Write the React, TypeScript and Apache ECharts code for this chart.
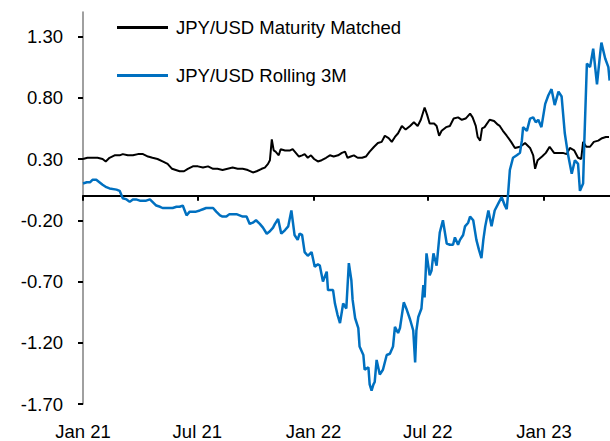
import React, { useEffect, useRef } from 'react';
import * as echarts from 'echarts';

// ---- axis / tick data (x is days since 1 Jan 2021) ----
const xMinDay = 0;
const xMaxDay = 834.6; // ~15 Apr 2023
const xTickDays = [0, 181, 365, 546, 730]; // 1 Jan 21, 1 Jul 21, 1 Jan 22, 1 Jul 22, 1 Jan 23
const xTickLabels = ['Jan 21', 'Jul 21', 'Jan 22', 'Jul 22', 'Jan 23'];
const yTickValues = [-1.7, -1.2, -0.7, -0.2, 0.3, 0.8, 1.3];
const yMin = -1.7;
const yMax = 1.5;

const seriesNames = ['JPY/USD Maturity Matched', 'JPY/USD Rolling 3M'];

// ---- JPY/USD Maturity Matched (days since 1 Jan 2021) ----
const maturityDays = [
  0, 7, 15, 23, 31, 36, 42, 50, 58, 63,
  71, 79, 87, 95, 103, 110, 118, 126, 134, 141,
  147, 153, 160, 166, 174, 182, 190, 198, 206, 213,
  221, 229, 237, 245, 253, 261, 269, 275, 283, 288,
  293, 296, 299, 302, 305, 310, 313, 320, 328, 332,
  337, 342, 347, 351, 356, 361, 366, 372, 378, 385,
  391, 397, 404, 410, 415, 419, 424, 429, 435, 442,
  448, 454, 461, 467, 473, 478, 484, 489, 494, 499,
  505, 511, 518, 524, 530, 535, 541, 545, 549, 556,
  560, 564, 568, 575, 581, 587, 594, 600, 606, 613,
  617, 622, 625, 629, 632, 636, 644, 651, 657, 660,
  665, 671, 678, 684, 692, 700, 708, 713, 716, 720,
  727, 733, 739, 746, 752, 760, 766, 771, 778, 784,
  789, 792, 797, 803, 809, 816, 822, 828, 833,
];
const maturityValues = [
  0.30, 0.31, 0.31, 0.31, 0.30, 0.28, 0.31, 0.33, 0.33, 0.34,
  0.33, 0.33, 0.34, 0.34, 0.32, 0.31, 0.30, 0.28, 0.26, 0.22,
  0.21, 0.20, 0.20, 0.22, 0.24, 0.24, 0.23, 0.24, 0.22, 0.22,
  0.21, 0.22, 0.23, 0.22, 0.22, 0.21, 0.19, 0.20, 0.22, 0.23,
  0.26, 0.29, 0.46, 0.37, 0.36, 0.33, 0.38, 0.37, 0.37, 0.38,
  0.35, 0.32, 0.33, 0.34, 0.31, 0.33, 0.30, 0.28, 0.29, 0.31,
  0.33, 0.32, 0.33, 0.35, 0.36, 0.31, 0.32, 0.33, 0.31, 0.31,
  0.32, 0.36, 0.40, 0.43, 0.44, 0.49, 0.47, 0.44, 0.48, 0.51,
  0.57, 0.54, 0.57, 0.60, 0.57, 0.62, 0.72, 0.66, 0.59, 0.59,
  0.57, 0.49, 0.53, 0.56, 0.57, 0.63, 0.64, 0.62, 0.63, 0.67,
  0.64, 0.57, 0.48, 0.45, 0.55, 0.56, 0.62, 0.61, 0.58, 0.57,
  0.53, 0.49, 0.44, 0.39, 0.40, 0.43, 0.39, 0.33, 0.22, 0.29,
  0.32, 0.35, 0.40, 0.35, 0.35, 0.35, 0.34, 0.39, 0.37, 0.31,
  0.30, 0.44, 0.40, 0.40, 0.44, 0.45, 0.47, 0.48, 0.48,
];

// ---- JPY/USD Rolling 3M (days since 1 Jan 2021) ----
const rollingDays = [
  0, 6, 11, 15, 21, 26, 31, 37, 42, 53,
  58, 63, 69, 74, 79, 84, 90, 95, 100, 106,
  110, 116, 122, 126, 132, 137, 142, 148, 153, 158,
  164, 169, 174, 179, 185, 190, 195, 201, 206, 211,
  217, 221, 227, 232, 237, 243, 248, 253, 259, 264,
  269, 274, 280, 285, 291, 296, 301, 304, 309, 314,
  320, 325, 330, 335, 340, 343, 347, 351, 356, 362,
  367, 372, 375, 380, 386, 388, 392, 396, 399, 403,
  407, 412, 417, 421, 425, 427, 431, 436, 438, 444,
  446, 452, 454, 457, 460, 462, 465, 470, 475, 481,
  486, 491, 494, 499, 502, 508, 512, 518, 523, 526,
  528, 531, 536, 539, 541, 544, 549, 552, 555, 560,
  565, 570, 576, 581, 586, 589, 594, 597, 602, 605,
  610, 613, 618, 623, 627, 631, 634, 637, 642, 647,
  652, 658, 663, 668, 671, 673, 676, 681, 687, 692,
  695, 697, 703, 708, 713, 717, 721, 726, 732, 737,
  742, 747, 753, 758, 763, 768, 774, 779, 784, 787,
  792, 794, 798, 803, 808, 814, 819, 821, 827, 832,
  834,
];
const rollingValues = [
  0.10, 0.11, 0.11, 0.13, 0.13, 0.11, 0.09, 0.07, 0.06, 0.05,
  0.04, -0.02, -0.03, -0.05, -0.03, -0.03, -0.04, -0.04, -0.04, -0.03,
  -0.05, -0.08, -0.09, -0.10, -0.10, -0.10, -0.10, -0.09, -0.09, -0.08,
  -0.16, -0.13, -0.13, -0.13, -0.12, -0.11, -0.10, -0.10, -0.10, -0.13,
  -0.16, -0.17, -0.17, -0.15, -0.15, -0.15, -0.16, -0.17, -0.17, -0.23,
  -0.22, -0.20, -0.23, -0.26, -0.31, -0.29, -0.26, -0.23, -0.19, -0.31,
  -0.28, -0.25, -0.12, -0.32, -0.36, -0.31, -0.32, -0.46, -0.49, -0.46,
  -0.58, -0.56, -0.57, -0.70, -0.62, -0.77, -0.77, -0.77, -0.88, -0.97,
  -1.04, -0.88, -0.92, -0.55, -0.69, -0.85, -1.00, -1.08, -1.23, -1.30,
  -1.42, -1.40, -1.54, -1.59, -1.54, -1.52, -1.34, -1.46, -1.42, -1.30,
  -1.29, -1.23, -1.07, -1.12, -1.08, -0.87, -0.92, -1.01, -1.10, -1.36,
  -1.10, -0.99, -0.92, -0.73, -0.83, -0.47, -0.65, -0.61, -0.47, -0.57,
  -0.30, -0.20, -0.39, -0.40, -0.40, -0.34, -0.40, -0.36, -0.32, -0.25,
  -0.22, -0.17, -0.20, -0.36, -0.44, -0.51, -0.36, -0.25, -0.12, -0.25,
  -0.12, -0.06, -0.01, -0.08, -0.11, 0.00, 0.21, 0.31, 0.33, 0.35,
  0.45, 0.56, 0.53, 0.63, 0.64, 0.60, 0.62, 0.56, 0.75, 0.82,
  0.87, 0.74, 0.85, 0.81, 0.51, 0.34, 0.18, 0.29, 0.26, 0.04,
  0.10, 0.45, 1.08, 1.05, 1.20, 0.91, 1.16, 1.25, 1.12, 1.05,
  0.94,
];

const FONT = "'Liberation Sans', Arial, sans-serif";
const FONT_SIZE = 18.5;

export default function App() {
  const ref = useRef<HTMLDivElement>(null);

  useEffect(() => {
    document.body.style.margin = '0';
    if (!ref.current) return;
    const chart = echarts.init(ref.current, undefined, { renderer: 'svg' });

    const xFormatter = (v: number) => {
      const i = xTickDays.indexOf(Math.round(v));
      return i >= 0 ? xTickLabels[i] : '';
    };

    const maturityData = maturityDays.map((d, i) => [d, maturityValues[i]]);
    const rollingData = rollingDays.map((d, i) => [d, rollingValues[i]]);

    chart.setOption({
      animation: false,
      grid: { left: 83, right: 0, top: 12, bottom: 37, containLabel: false, outerBoundsMode: 'none' },
      legend: {
        orient: 'vertical',
        left: 117,
        top: 18,
        padding: 0,
        itemGap: 29,
        itemWidth: 51,
        itemHeight: 3,
        icon: 'rect',
        selectedMode: false,
        textStyle: { fontSize: FONT_SIZE, color: '#000', fontFamily: FONT, padding: [0, 0, 0, 3] },
        data: seriesNames,
      },
      xAxis: [
        {
          type: 'value',
          min: xMinDay,
          max: xMaxDay,
          position: 'bottom',
          axisLine: { show: true, onZero: true, lineStyle: { color: '#000', width: 2 } },
          axisTick: { show: true, customValues: xTickDays, length: 5, lineStyle: { color: '#000', width: 2 } },
          axisLabel: { show: false },
          splitLine: { show: false },
        },
        {
          type: 'value',
          min: xMinDay,
          max: xMaxDay,
          position: 'bottom',
          axisLine: { show: false, onZero: false },
          axisTick: { show: false },
          axisLabel: {
            show: true,
            customValues: xTickDays,
            formatter: xFormatter,
            fontSize: FONT_SIZE,
            color: '#000',
            fontFamily: FONT,
            margin: 18,
            hideOverlap: false,
          },
          splitLine: { show: false },
        },
      ],
      yAxis: {
        type: 'value',
        min: yMin,
        max: yMax,
        position: 'left',
        axisLine: { show: true, lineStyle: { color: '#808080', width: 1.5 } },
        axisTick: { show: true, customValues: yTickValues, length: 5, lineStyle: { color: '#000', width: 2 } },
        axisLabel: {
          customValues: yTickValues,
          formatter: (v: number) => v.toFixed(2),
          fontSize: FONT_SIZE,
          color: '#000',
          fontFamily: FONT,
          margin: 20,
        },
        splitLine: { show: false },
      },
      series: [
        {
          name: seriesNames[0],
          type: 'line',
          xAxisIndex: 0,
          data: maturityData,
          symbol: 'none',
          showSymbol: false,
          color: '#000000',
          itemStyle: { color: '#000000' },
          lineStyle: { color: '#000000', width: 2 },
        },
        {
          name: seriesNames[1],
          type: 'line',
          xAxisIndex: 0,
          data: rollingData,
          symbol: 'none',
          showSymbol: false,
          color: '#0070C0',
          itemStyle: { color: '#0070C0' },
          lineStyle: { color: '#0070C0', width: 2.5 },
        },
      ],
    });

    return () => chart.dispose();
  }, []);

  return (
    <div
      ref={ref}
      style={{ position: 'absolute', left: 0, top: 0, width: 610, height: 441 }}
    />
  );
}
